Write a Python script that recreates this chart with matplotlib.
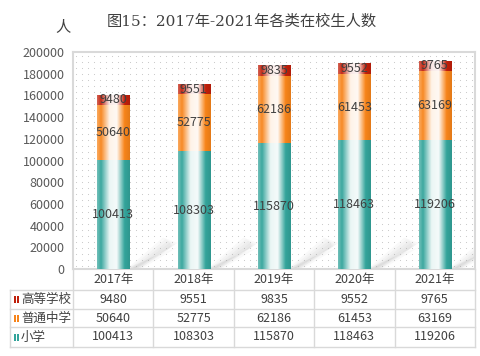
import numpy as np
import matplotlib
matplotlib.use("Agg")
import matplotlib.pyplot as plt
from matplotlib.colors import LinearSegmentedColormap, to_rgb
from matplotlib.patches import Rectangle, Polygon

plt.rcParams['font.family'] = ['Noto Sans CJK SC', 'DejaVu Sans']

years = ['2017年', '2018年', '2019年', '2020年', '2021年']
primary = [100413, 108303, 115870, 118463, 119206]      # 小学
secondary = [50640, 52775, 62186, 61453, 63169]         # 普通中学
higher = [9480, 9551, 9835, 9552, 9765]                 # 高等学校
series_names = ['小学', '普通中学', '高等学校']
series_vals = [primary, secondary, higher]
series_cols = ['#33a49b', '#f7841a', '#c01f0a']
yticks = list(range(0, 200001, 20000))

TXT = '#404040'
GRID = '#d9d9d9'

fig = plt.figure(figsize=(4.8, 3.56), dpi=100)
ax = fig.add_axes([73/480, (356-269)/356, 402/480, 217/356])
ax.set_xlim(-0.5, len(years) - 0.5)
ax.set_ylim(0, 200000)

# dotted background (decorative)
gx, gy = np.meshgrid(np.arange(3, 402, 6) / 402, np.arange(3, 217, 6) / 217)
ax.scatter(gx.ravel(), gy.ravel(), s=0.6, color='#c4c4c4', linewidths=0,
           transform=ax.transAxes, zorder=0)

def mix(c, w, k=0.0):
    r = np.array(to_rgb(c))
    r = r * (1 - w) + w
    r = r * (1 - k)
    return tuple(r)

def grad_cmap(c):
    stops = [(0.0, mix(c, 0.3)), (0.12, mix(c, 0.05)), (0.38, mix(c, 0.9)),
             (0.6, mix(c, 0.95)), (0.84, mix(c, 0.0)), (1.0, mix(c, 0.0, 0.08))]
    return LinearSegmentedColormap.from_list('g', stops)

x = np.arange(len(years))
width = 0.4
bottom = np.zeros(len(years))
grad = np.linspace(0, 1, 128).reshape(1, -1)

# soft shadows (decorative)
for xi in x:
    x0 = xi + width / 2
    for k in range(7):
        d = 0.03 * k
        shadow = Polygon([(x0 - 0.03 + d, 0), (x0 + 0.12 - d, 0),
                          (x0 + 0.6 - d, 24000 - 1500 * k), (x0 + 0.42 + d, 29000 - 1500 * k)],
                         closed=True, facecolor='#9a9a9a', edgecolor='none',
                         alpha=0.06, zorder=1)
        ax.add_patch(shadow)

for name, vals, col in zip(series_names, series_vals, series_cols):
    bars = ax.bar(x, vals, width, bottom=bottom, color=col, edgecolor='none', zorder=2)
    cm = grad_cmap(col)
    for b in bars:
        im = ax.imshow(grad, cmap=cm, aspect='auto', zorder=3,
                       extent=[b.get_x(), b.get_x() + b.get_width(),
                               b.get_y(), b.get_y() + b.get_height()])
        im.set_clip_path(b)
    bottom = bottom + np.array(vals)

bottom = np.zeros(len(years))
for vals in series_vals:
    for xi, v, bt in zip(x, vals, bottom):
        ax.text(xi, bt + v / 2, str(v), ha='center', va='center', fontsize=9,
                color=TXT, zorder=6)
    bottom = bottom + np.array(vals)

ax.set_xlim(-0.5, len(years) - 0.5)
ax.set_ylim(0, 200000)
ax.set_yticks(yticks)
ax.set_yticklabels([str(t) for t in yticks])
ax.tick_params(axis='y', length=0, pad=6, labelsize=9, labelcolor='#595959')
ax.set_xticks([])
for s in ax.spines.values():
    s.set_color(GRID)
    s.set_linewidth(1.5)

# data table
def fy(px):
    return (269 - px) / 217

xl = (10 - 73) / 402
row_lines = [290, 309, 327, 347]
for py in row_lines:
    ax.plot([xl, 1], [fy(py), fy(py)], transform=ax.transAxes, color=GRID,
            lw=1, clip_on=False)
for i in range(len(years) + 1):
    ax.plot([i / len(years)] * 2, [0, fy(347)], transform=ax.transAxes,
            color=GRID, lw=1, clip_on=False)
ax.plot([xl, xl], [fy(290), fy(347)], transform=ax.transAxes, color=GRID,
        lw=1, clip_on=False)

n = len(years)
for i, yr in enumerate(years):
    ax.text((i + 0.5) / n, fy(280), yr, transform=ax.transAxes, ha='center',
            va='center', fontsize=9, color=TXT)

table_rows = [('高等学校', higher, series_cols[2]),
              ('普通中学', secondary, series_cols[1]),
              ('小学', primary, series_cols[0])]
centers = [299.5, 318, 337]
for (name, vals, col), cy in zip(table_rows, centers):
    for i, v in enumerate(vals):
        ax.text((i + 0.5) / n, fy(cy), str(v), transform=ax.transAxes,
                ha='center', va='center', fontsize=9, color=TXT)
    ax.text((21 - 73) / 402, fy(cy), name, transform=ax.transAxes, ha='left',
            va='center', fontsize=9, color=TXT)
    for mx in (14, 17):
        ax.add_patch(Rectangle(((mx - 73) / 402, fy(cy + 3.5)), 2 / 402, 7 / 217,
                               transform=ax.transAxes, facecolor=col,
                               edgecolor='none', clip_on=False))

fig.text(241.5 / 480, 1 - 22 / 356, '图15：2017年-2021年各类在校生人数',
         ha='center', va='center', fontsize=11, color=TXT,
         family=['DejaVu Serif', 'Noto Sans CJK SC'])
fig.text(63 / 480, 1 - 27 / 356, '人', ha='center', va='center', fontsize=11,
         color=TXT)

fig.savefig('out.png', dpi=100)
